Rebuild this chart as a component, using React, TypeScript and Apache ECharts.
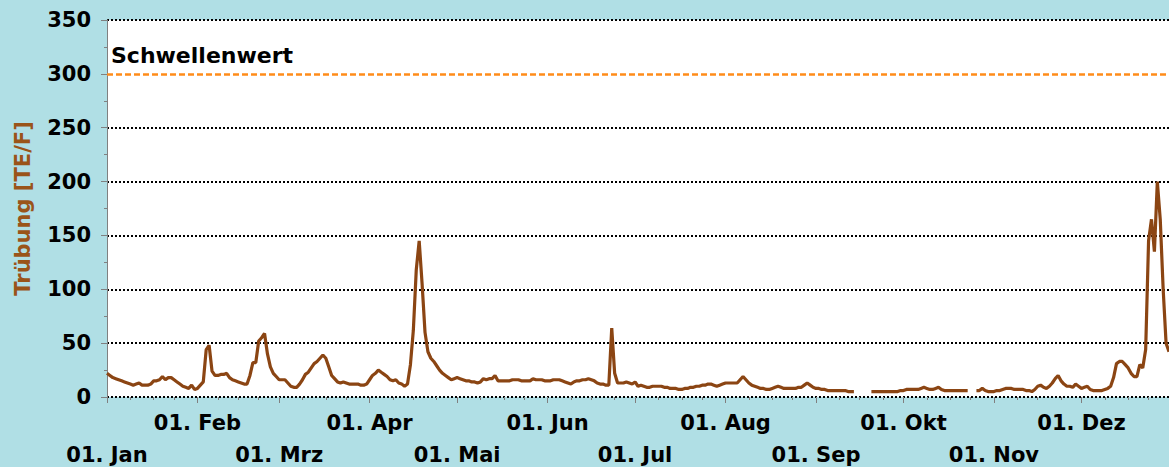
import React, { useEffect, useRef } from 'react';
import * as echarts from 'echarts';

const monthNames = ['Jan', 'Feb', 'Mrz', 'Apr', 'Mai', 'Jun', 'Jul', 'Aug', 'Sep', 'Okt', 'Nov', 'Dez'];
const monthDays = [31, 28, 31, 30, 31, 30, 31, 31, 30, 31, 30, 31];

// Daily turbidity values [TE/F], one array per month (null = no data)
const jan = [22, 20, 18, 17, 16, 15, 14, 13, 12, 11, 12, 13, 11, 11, 11, 12, 15, 15, 16, 19, 16, 18, 18, 16, 14, 12, 10, 9, 8, 11, 7];
const feb = [8, 11, 14, 44, 48, 24, 20, 20, 21, 21, 22, 18, 16, 15, 14, 13, 12, 12, 20, 32, 32, 52, 55, 59, 40, 28, 22, 19];
const mar = [16, 16, 16, 13, 10, 9, 9, 12, 16, 21, 23, 27, 31, 33, 36, 39, 36, 28, 20, 17, 14, 13, 14, 13, 12, 12, 12, 12, 11, 11, 12];
const apr = [16, 20, 22, 25, 23, 21, 19, 16, 15, 16, 13, 12, 10, 12, 30, 62, 118, 145, 105, 60, 42, 36, 33, 29, 25, 22, 20, 18, 16, 17];
const may = [18, 17, 16, 15, 15, 14, 14, 13, 14, 17, 16, 17, 17, 20, 15, 15, 15, 15, 15, 16, 16, 16, 15, 15, 15, 15, 17, 16, 16, 16, 15];
const jun = [15, 15, 16, 16, 16, 15, 14, 13, 12, 14, 15, 15, 16, 16, 17, 16, 15, 13, 12, 12, 11, 11, 64, 22, 13, 13, 13, 14, 13, 12];
const jul = [14, 10, 11, 10, 9, 9, 10, 10, 10, 10, 9, 9, 8, 8, 8, 7, 7, 8, 8, 9, 9, 10, 10, 11, 11, 12, 12, 11, 10, 11, 12];
const aug = [13, 13, 13, 13, 13, 16, 19, 16, 13, 11, 10, 9, 8, 8, 7, 7, 8, 9, 10, 9, 8, 8, 8, 8, 8, 9, 9, 11, 13, 11, 9];
const sep = [8, 8, 7, 7, 6, 6, 6, 6, 6, 6, 6, 5, 5, 5, null, null, null, null, null, 5, 5, 5, 5, 5, 5, 5, 5, 5, 5, 6];
const oct = [6, 7, 7, 7, 7, 7, 8, 9, 8, 7, 7, 8, 9, 7, 6, 6, 6, 6, 6, 6, 6, 6, 6, null, null, 6, 6, 8, 6, 5, 5];
const nov = [5, 6, 6, 7, 8, 8, 8, 7, 7, 7, 7, 6, 6, 5, 7, 10, 11, 9, 8, 10, 13, 17, 20, 15, 12, 10, 10, 9, 12, 10];
const dec = [8, 9, 10, 7, 6, 6, 6, 6, 7, 8, 10, 18, 31, 33, 33, 30, 27, 22, 19, 19, 30, 27, 44, 145, 165, 135, 200, 165, 100, 50, 42];

const turbidity = [...jan, ...feb, ...mar, ...apr, ...may, ...jun, ...jul, ...aug, ...sep, ...oct, ...nov, ...dec];

const threshold = 300;
const thresholdLabel = 'Schwellenwert';
const yAxisTitle = 'Trübung [TE/F]';
const yMin = 0;
const yMax = 350;
const yStep = 50;

const FONT = 'DejaVu Sans';

export default function App() {
  const ref = useRef<HTMLDivElement>(null);

  useEffect(() => {
    const chart = echarts.init(ref.current!, null, { renderer: 'svg' });

    const categories: string[] = [];
    const monthStart = new Map<number, number>();
    const minorTicks = new Set<number>();
    let idx = 0;
    monthDays.forEach((len, m) => {
      monthStart.set(idx, m);
      for (let q = 1; q < 4; q++) minorTicks.add(idx + Math.round((len * q) / 4));
      for (let d = 1; d <= len; d++) categories.push(`${d}.${m + 1}.`);
      idx += len;
    });
    const labelOf = (v: string) => {
      const i = categories.indexOf(v);
      const m = monthStart.get(i);
      return m === undefined ? '' : '01. ' + monthNames[m];
    };
    const labelStyle = {
      fontFamily: FONT,
      fontSize: 21,
      fontWeight: 'bold' as const,
      color: '#000',
    };

    // gridline colours: hide the one hidden under the threshold line
    const gridColors: string[] = [];
    for (let v = yMin; v <= yMax; v += yStep) {
      gridColors.push(v === threshold ? 'rgba(0,0,0,0)' : '#000');
    }

    chart.setOption({
      animation: false,
      backgroundColor: '#B0DFE5',
      grid: {
        left: 107,
        right: 0,
        top: 20,
        bottom: 70,
        show: true,
        backgroundColor: '#ffffff',
        borderWidth: 0,
      },
      xAxis: [
        {
          type: 'category',
          data: categories,
          boundaryGap: false,
          position: 'bottom',
          axisLine: { show: false },
          axisTick: {
            show: true,
            interval: (i: number) => monthStart.has(i),
            length: 6,
            lineStyle: { color: '#808080', width: 1 },
          },
          axisLabel: {
            ...labelStyle,
            interval: (i: number) => monthStart.has(i) && (monthStart.get(i)! % 2 === 1),
            formatter: labelOf,
            margin: 15,
          },
          splitLine: { show: false },
        },
        {
          type: 'category',
          data: categories,
          boundaryGap: false,
          position: 'bottom',
          axisLine: { show: false },
          axisTick: {
            show: true,
            interval: (i: number) => minorTicks.has(i),
            length: 3,
            lineStyle: { color: '#808080', width: 1 },
          },
          axisLabel: {
            ...labelStyle,
            interval: (i: number) => monthStart.has(i) && (monthStart.get(i)! % 2 === 0),
            formatter: labelOf,
            margin: 47,
          },
          splitLine: { show: false },
        },
      ],
      yAxis: {
        type: 'value',
        min: yMin,
        max: yMax,
        interval: yStep,
        name: yAxisTitle,
        nameLocation: 'middle',
        nameGap: 74,
        nameTextStyle: {
          fontFamily: FONT,
          fontSize: 21,
          fontWeight: 'bold',
          color: '#9A5419',
        },
        axisLine: { show: true, lineStyle: { color: '#808080', width: 1 } },
        axisTick: { show: true, length: 6, lineStyle: { color: '#808080' } },
        minorTick: { show: true, splitNumber: 2, length: 3, lineStyle: { color: '#808080' } },
        splitLine: { show: true, lineStyle: { type: 'dotted', color: gridColors, width: 2 } },
        axisLabel: { ...labelStyle, margin: 16 },
      },
      series: [
        {
          type: 'line',
          xAxisIndex: 0,
          data: turbidity,
          showSymbol: false,
          connectNulls: false,
          lineStyle: { color: '#8B4513', width: 3.2 },
          itemStyle: { color: '#8B4513' },
          markLine: {
            silent: true,
            symbol: 'none',
            label: { show: false },
            lineStyle: { color: '#FF8C1A', type: [6, 3], width: 2.5 },
            data: [{ yAxis: threshold }],
          },
        },
      ],
      graphic: [
        {
          type: 'text',
          left: 111,
          top: 44,
          style: {
            text: thresholdLabel,
            fontFamily: FONT,
            fontSize: 22,
            fontWeight: 'bold',
            fill: '#000',
          },
        },
      ],
    });

    return () => chart.dispose();
  }, []);

  return (
    <div
      ref={ref}
      style={{ position: 'fixed', left: 0, top: 0, width: 1169, height: 467 }}
    />
  );
}
